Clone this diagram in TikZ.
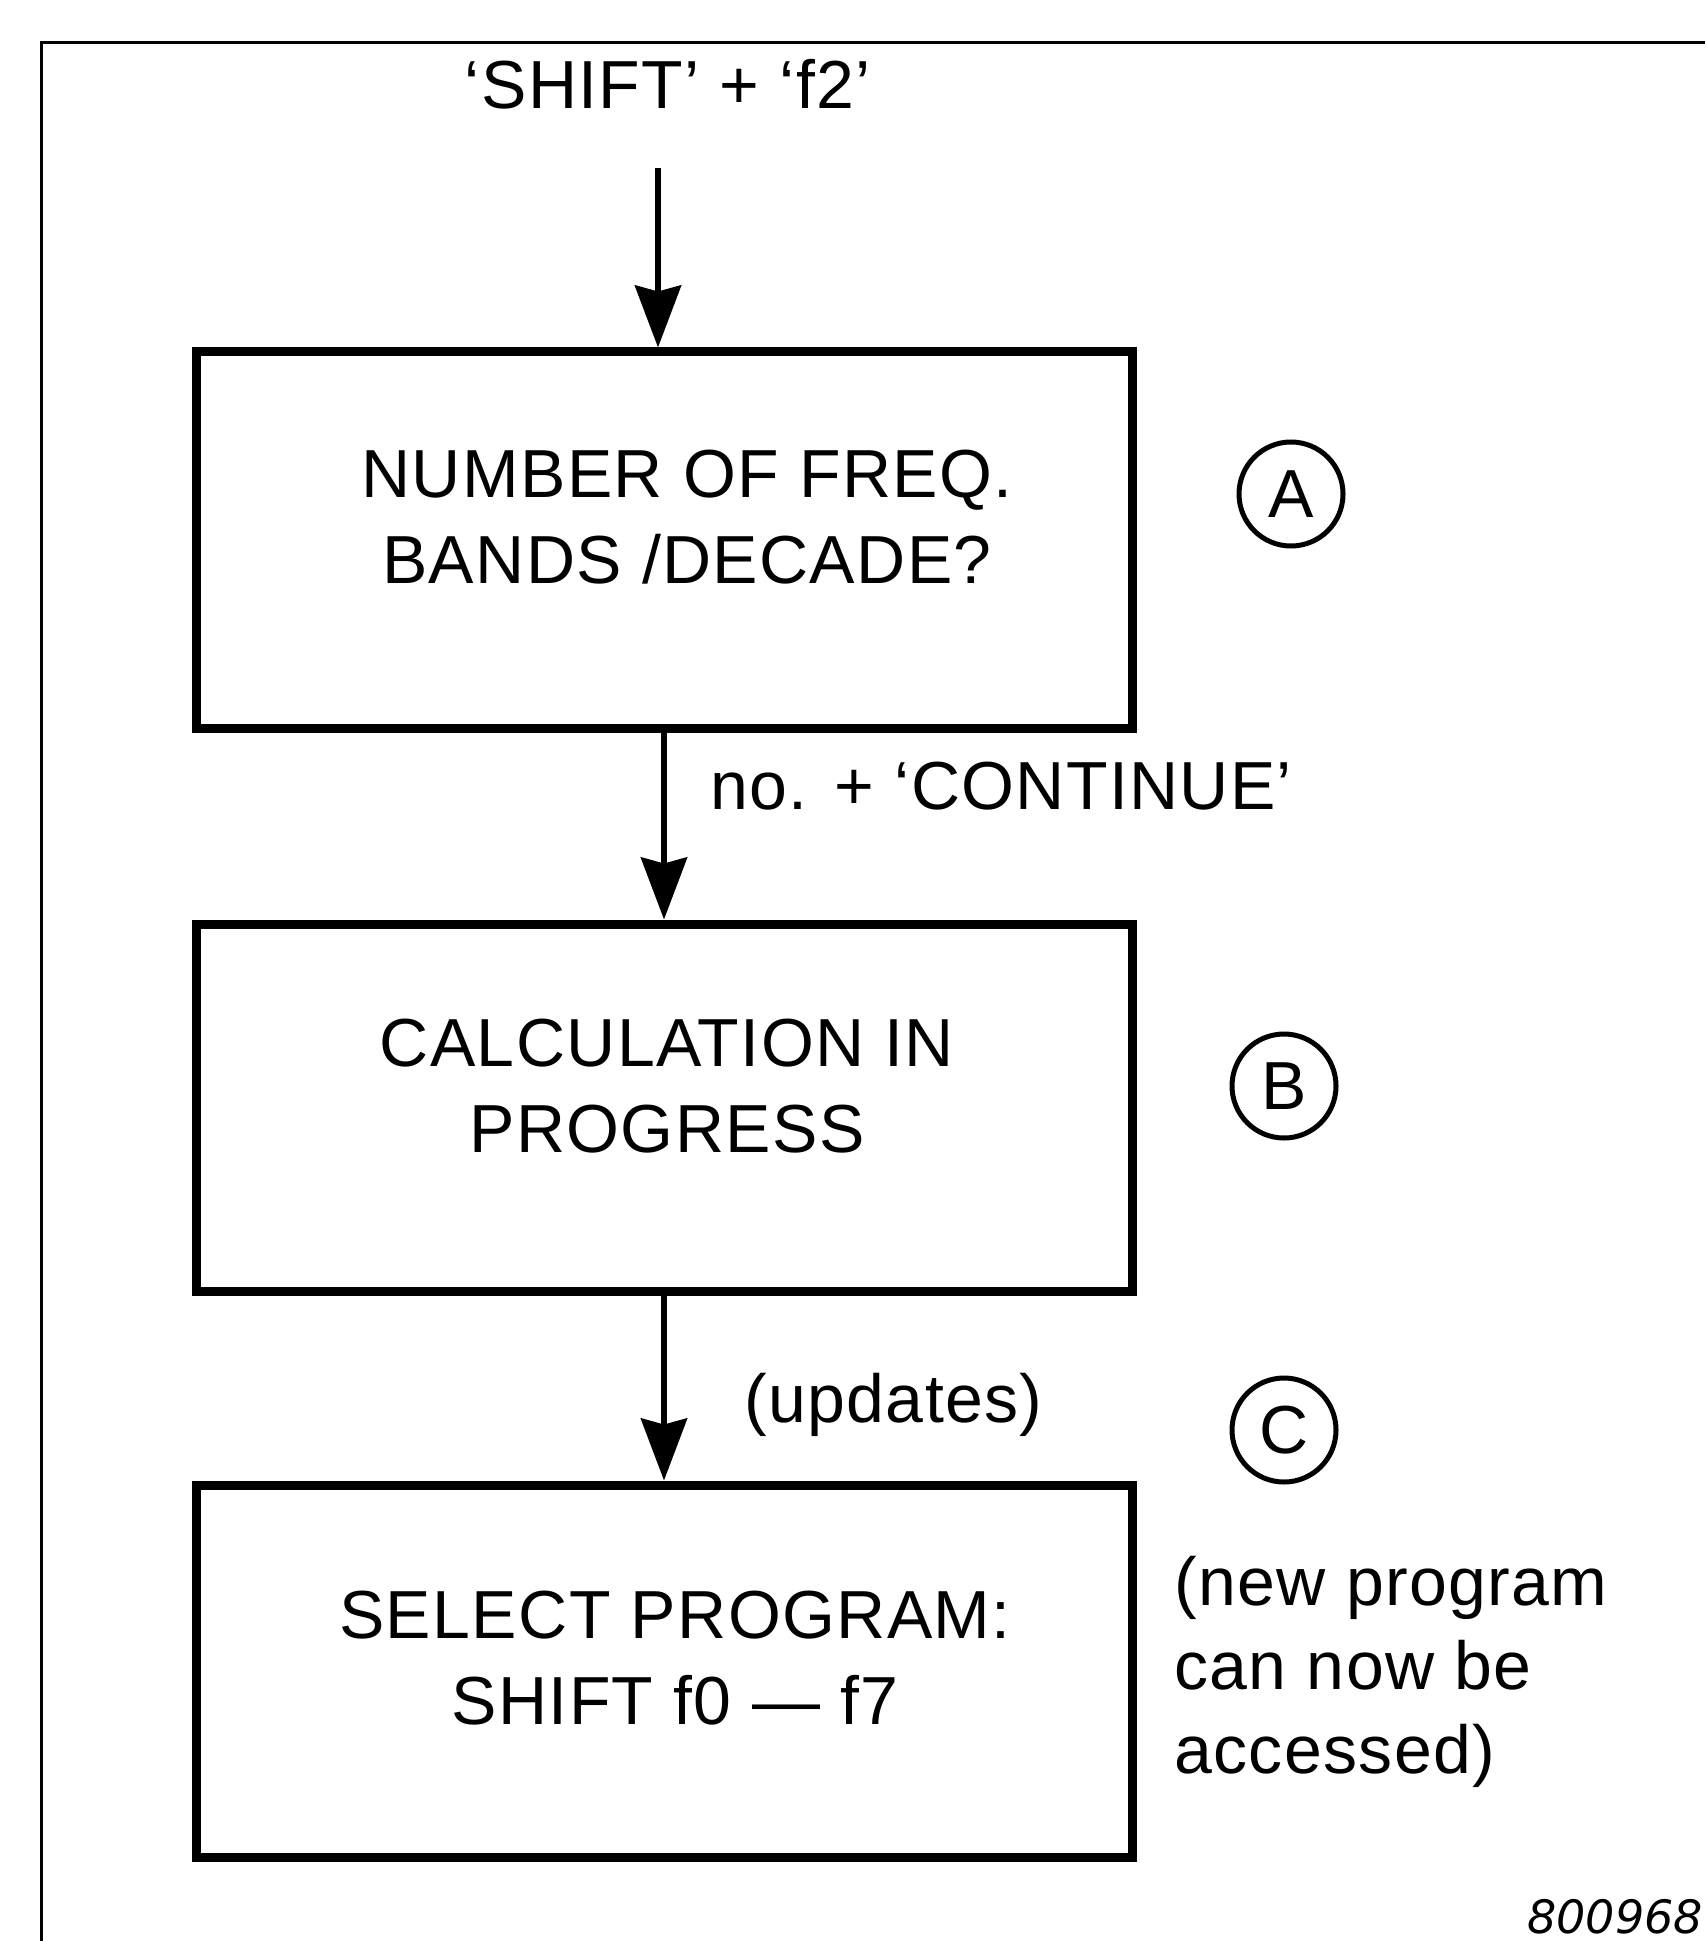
\documentclass[tikz,border=0pt]{standalone}
\usepackage{fontspec}
\setmainfont{Liberation Sans}[LetterSpace=2]
\newfontfamily\fignumfont{DejaVu Sans}
\usetikzlibrary{arrows.meta}
\begin{document}
\begin{tikzpicture}[x=0.5pt,y=-0.5pt,
  frame/.style={line width=1.5pt},
  stepbox/.style={draw,line width=4.5pt,minimum width=468pt,inner sep=0pt},
  lbl/.style={inner sep=0pt,font=\fontsize{34}{43}\selectfont,align=center},
  side/.style={inner sep=0pt,font=\fontsize{34}{42}\selectfont,align=left},
  tag/.style={draw,circle,line width=2.5pt,minimum size=52pt,inner sep=0pt,font=\fontsize{34}{40}\selectfont},
  flow/.style={line width=3pt,-{Stealth[length=31pt,width=23pt,inset=3pt]}},
]
\useasboundingbox (0,0) rectangle (1705,1941);

% outer frame (top and left edges)
\draw[frame] (1705,43) -- (41,43) -- (41,1941);

% process boxes
\node[stepbox,minimum height=188pt]   (boxA) at (664,540)    {};
\node[stepbox,minimum height=183.5pt] (boxB) at (664,1107.5) {};
\node[stepbox,minimum height=186pt]   (boxC) at (664,1671)   {};

% box texts
\node[lbl] (txtA) at (687,517)  {NUMBER OF FREQ.\\BANDS /DECADE?};
\node[lbl] (txtB) at (667,1086) {CALCULATION IN\\PROGRESS};
\node[lbl] (txtC) at (675,1658) {SELECT PROGRAM:\\SHIFT f0 — f7};

% entry key sequence
\node[lbl] (start) at (668,84) {‘SHIFT’ + ‘f2’};
\coordinate (entry) at (658,168);

% connectors
\draw[flow] (entry) -- (entry |- boxA.north);
\draw[flow] (boxA.south) -- (boxB.north);
\draw[flow] (boxB.south) -- (boxC.north);

% connector labels
\node[lbl,anchor=west] (cont) at (710,786)  {no. + ‘CONTINUE’};
\node[lbl,anchor=west] (upd)  at (744,1405) {(updates)};

% step markers
\node[tag] (tagA) at (1291,494)  {A};
\node[tag] (tagB) at (1284,1086) {B};
\node[tag] (tagC) at (1284,1430) {C};

% side note
\node[side,anchor=west] (note) at (1174,1672) {(new program\\can now be\\accessed)};

% figure number
\node[inner sep=0pt,anchor=base west,font=\fontsize{23}{23}\fignumfont\itshape] (fignum) at (1527,1933) {800968};
\end{tikzpicture}
\end{document}
